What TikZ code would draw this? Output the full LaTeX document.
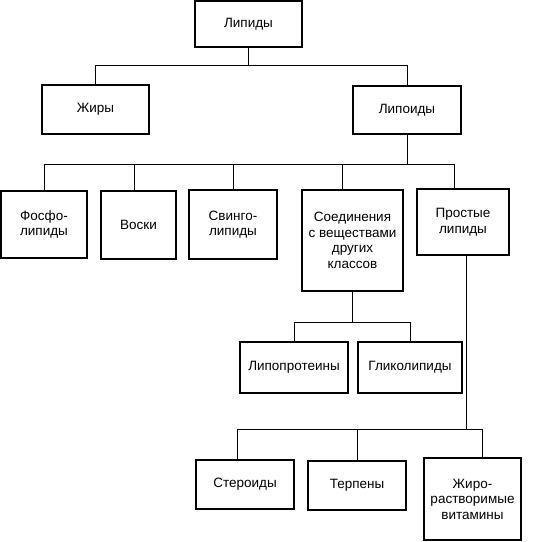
\documentclass[tikz,border=0pt]{standalone}
\usepackage{fontspec}
\setmainfont{Liberation Sans}
\usepackage{tikz}
\tikzset{
	blok/.style={draw, line width=2pt, align=center, inner sep=0pt},
	link/.style={line width=0.9pt}
}

\begin{document}
\begin{tikzpicture}[x=1pt, y=-1pt, font=\fontsize{13.5}{15.5}\selectfont]
					
					\useasboundingbox (0,0) rectangle (556,541);
					
					% ---- top ----
					\node[blok, minimum width=107pt, minimum height=46pt] (lip) at (248.5,24) {Липиды};
					
					% ---- second row ----
					\node[blok, minimum width=107pt, minimum height=49pt] (zhir) at (95.5,109.5) {Жиры};
					\node[blok, minimum width=108pt, minimum height=48pt] (lipoid) at (407,110) {Липоиды};
					
					% ---- third row ----
					\node[blok, minimum width=86pt, minimum height=67pt] (fosfo) at (44,224.5) {Фосфо-\\липиды};
					\node[blok, minimum width=75pt, minimum height=68pt] (voski) at (138.5,225) {Воски};
					\node[blok, minimum width=88pt, minimum height=69pt] (svingo) at (233,224.5) {Свинго-\\липиды};
					\node[blok, minimum width=101pt, minimum height=101pt] (soed) at (352.5,240.5)
					{Соединения\\с веществами\\других\\классов};
					\node[blok, minimum width=92pt, minimum height=66pt] (prost) at (463,222) {Простые\\липиды};
					
					% ---- compounds ----
					\node[blok, minimum width=108pt, minimum height=51pt] (liprot) at (294,367.5) {Липопротеины};
					\node[blok, minimum width=104pt, minimum height=51pt] (glik) at (410,367.5) {Гликолипиды};
					
					% ---- simple lipids ----
					\node[blok, minimum width=98pt, minimum height=49pt] (ster) at (245,484.5) {Стероиды};
					\node[blok, minimum width=98pt, minimum height=49pt] (terp) at (357,485.5) {Терпены};
					\node[blok, minimum width=97pt, minimum height=82pt] (zhvit) at (472.5,499)
					{Жиро-\\растворимые\\витамины};
					
					% ---- connectors ----
					\draw[link] (lip.south) -- ++(0,17) -| (zhir.north);
					\draw[link] (lip.south) -- ++(0,17) -| (lipoid.north);
					
					\draw[link] (lipoid.south) -- ++(0,29) -| (fosfo.north);
					\draw[link] (lipoid.south) -- ++(0,29) -| ([xshift=-4pt]voski.north);
					\draw[link] (lipoid.south) -- ++(0,29) -| (svingo.north);
					\draw[link] (lipoid.south) -- ++(0,29) -| ([xshift=-10pt]soed.north);
					\draw[link] (lipoid.south) -- ++(0,29) -| ([xshift=-9pt]prost.north);
					
					\draw[link] (soed.south) -- ++(0,30) -| (liprot.north);
					\draw[link] (soed.south) -- ++(0,30) -| (glik.north);
					
					\draw[link] ([xshift=3pt]prost.south) -- ++(0,173) -| ([xshift=-8pt]ster.north);
					\draw[link] ([xshift=3pt]prost.south) -- ++(0,173) -| (terp.north);
					\draw[link] ([xshift=3pt]prost.south) -- ++(0,173) -| ([xshift=10pt]zhvit.north);
					
\end{tikzpicture}
\end{document}
